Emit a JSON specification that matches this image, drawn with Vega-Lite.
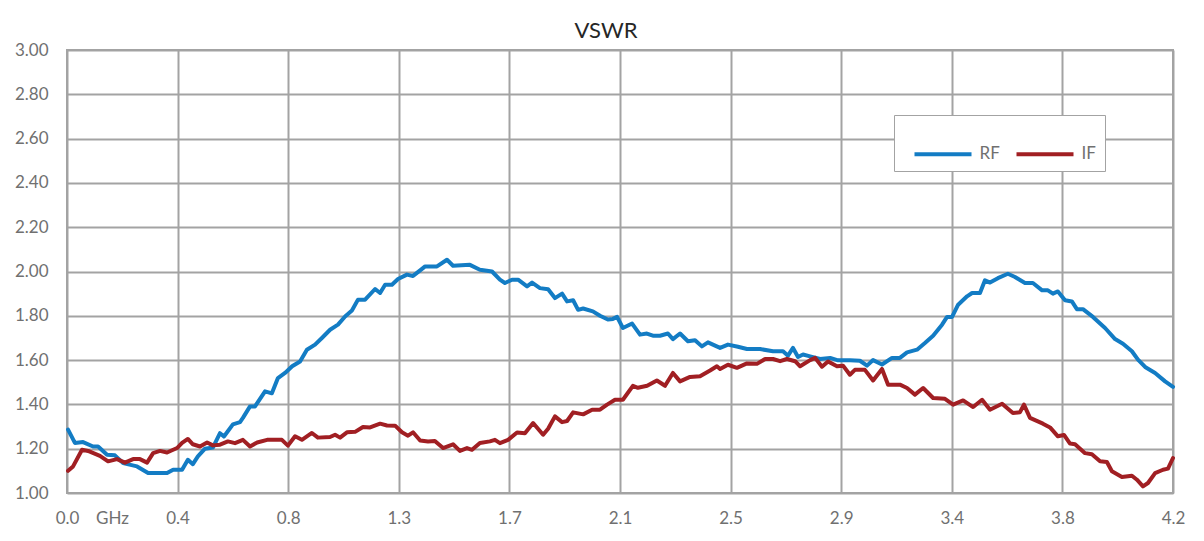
{
  "$schema": "https://vega.github.io/schema/vega-lite/v6.json",
  "width": 1106,
  "height": 443,
  "autosize": {"type": "none"},
  "padding": {"left": 67, "top": 50, "right": 31, "bottom": 48},
  "background": "white",
  "title": {"text": "VSWR", "fontSize": 22, "font": "Lato", "fontWeight": "normal", "color": "#262626", "anchor": "middle", "dx": -14, "offset": -2},
  "config": {
    "font": "Lato",
    "view": {"stroke": "#a3a3a3", "strokeWidth": 2},
    "axis": {"gridColor": "#a3a3a3", "gridWidth": 2, "gridOpacity": 1, "domain": false, "ticks": false, "labelColor": "#707070", "labelFont": "Lato", "labelFontSize": 17, "title": null}
  },
  "data": {"values": [
    {"f":0.004,"s":"RF","v":1.286},{"f":0.030,"s":"RF","v":1.226},{"f":0.061,"s":"RF","v":1.23},{"f":0.099,"s":"RF","v":1.21},{"f":0.118,"s":"RF","v":1.21},{"f":0.152,"s":"RF","v":1.173},{"f":0.182,"s":"RF","v":1.17},{"f":0.213,"s":"RF","v":1.135},{"f":0.266,"s":"RF","v":1.12},{"f":0.308,"s":"RF","v":1.09},{"f":0.353,"s":"RF","v":1.09},{"f":0.380,"s":"RF","v":1.09},{"f":0.403,"s":"RF","v":1.105},{"f":0.437,"s":"RF","v":1.105},{"f":0.459,"s":"RF","v":1.15},{"f":0.478,"s":"RF","v":1.13},{"f":0.497,"s":"RF","v":1.165},{"f":0.524,"s":"RF","v":1.2},{"f":0.554,"s":"RF","v":1.205},{"f":0.581,"s":"RF","v":1.27},{"f":0.596,"s":"RF","v":1.255},{"f":0.630,"s":"RF","v":1.31},{"f":0.657,"s":"RF","v":1.32},{"f":0.668,"s":"RF","v":1.339},{"f":0.695,"s":"RF","v":1.391},{"f":0.714,"s":"RF","v":1.391},{"f":0.752,"s":"RF","v":1.459},{"f":0.778,"s":"RF","v":1.45},{"f":0.801,"s":"RF","v":1.519},{"f":0.828,"s":"RF","v":1.542},{"f":0.855,"s":"RF","v":1.572},{"f":0.885,"s":"RF","v":1.594},{"f":0.911,"s":"RF","v":1.647},{"f":0.942,"s":"RF","v":1.67},{"f":0.968,"s":"RF","v":1.7},{"f":0.999,"s":"RF","v":1.737},{"f":1.029,"s":"RF","v":1.76},{"f":1.056,"s":"RF","v":1.797},{"f":1.082,"s":"RF","v":1.824},{"f":1.105,"s":"RF","v":1.873},{"f":1.132,"s":"RF","v":1.873},{"f":1.170,"s":"RF","v":1.921},{"f":1.189,"s":"RF","v":1.903},{"f":1.208,"s":"RF","v":1.94},{"f":1.234,"s":"RF","v":1.94},{"f":1.257,"s":"RF","v":1.966},{"f":1.291,"s":"RF","v":1.986},{"f":1.314,"s":"RF","v":1.98},{"f":1.341,"s":"RF","v":2.005},{"f":1.360,"s":"RF","v":2.023},{"f":1.405,"s":"RF","v":2.023},{"f":1.443,"s":"RF","v":2.053},{"f":1.466,"s":"RF","v":2.026},{"f":1.530,"s":"RF","v":2.03},{"f":1.568,"s":"RF","v":2.008},{"f":1.614,"s":"RF","v":2.0},{"f":1.644,"s":"RF","v":1.963},{"f":1.663,"s":"RF","v":1.948},{"f":1.690,"s":"RF","v":1.963},{"f":1.713,"s":"RF","v":1.963},{"f":1.747,"s":"RF","v":1.933},{"f":1.766,"s":"RF","v":1.95},{"f":1.796,"s":"RF","v":1.925},{"f":1.827,"s":"RF","v":1.92},{"f":1.853,"s":"RF","v":1.88},{"f":1.880,"s":"RF","v":1.9},{"f":1.899,"s":"RF","v":1.865},{"f":1.922,"s":"RF","v":1.87},{"f":1.941,"s":"RF","v":1.827},{"f":1.960,"s":"RF","v":1.833},{"f":1.997,"s":"RF","v":1.82},{"f":2.024,"s":"RF","v":1.8},{"f":2.054,"s":"RF","v":1.783},{"f":2.073,"s":"RF","v":1.786},{"f":2.089,"s":"RF","v":1.795},{"f":2.111,"s":"RF","v":1.745},{"f":2.146,"s":"RF","v":1.765},{"f":2.176,"s":"RF","v":1.715},{"f":2.202,"s":"RF","v":1.72},{"f":2.225,"s":"RF","v":1.71},{"f":2.252,"s":"RF","v":1.71},{"f":2.282,"s":"RF","v":1.72},{"f":2.301,"s":"RF","v":1.695},{"f":2.328,"s":"RF","v":1.72},{"f":2.358,"s":"RF","v":1.685},{"f":2.385,"s":"RF","v":1.69},{"f":2.411,"s":"RF","v":1.662},{"f":2.434,"s":"RF","v":1.68},{"f":2.480,"s":"RF","v":1.655},{"f":2.510,"s":"RF","v":1.67},{"f":2.548,"s":"RF","v":1.66},{"f":2.582,"s":"RF","v":1.65},{"f":2.632,"s":"RF","v":1.65},{"f":2.681,"s":"RF","v":1.64},{"f":2.719,"s":"RF","v":1.64},{"f":2.738,"s":"RF","v":1.62},{"f":2.757,"s":"RF","v":1.655},{"f":2.776,"s":"RF","v":1.614},{"f":2.795,"s":"RF","v":1.625},{"f":2.822,"s":"RF","v":1.617},{"f":2.860,"s":"RF","v":1.605},{"f":2.898,"s":"RF","v":1.61},{"f":2.928,"s":"RF","v":1.599},{"f":2.973,"s":"RF","v":1.599},{"f":3.011,"s":"RF","v":1.597},{"f":3.038,"s":"RF","v":1.575},{"f":3.061,"s":"RF","v":1.6},{"f":3.095,"s":"RF","v":1.58},{"f":3.133,"s":"RF","v":1.61},{"f":3.163,"s":"RF","v":1.61},{"f":3.190,"s":"RF","v":1.635},{"f":3.228,"s":"RF","v":1.647},{"f":3.258,"s":"RF","v":1.677},{"f":3.289,"s":"RF","v":1.71},{"f":3.323,"s":"RF","v":1.76},{"f":3.342,"s":"RF","v":1.795},{"f":3.361,"s":"RF","v":1.795},{"f":3.384,"s":"RF","v":1.85},{"f":3.418,"s":"RF","v":1.888},{"f":3.437,"s":"RF","v":1.903},{"f":3.467,"s":"RF","v":1.903},{"f":3.486,"s":"RF","v":1.96},{"f":3.505,"s":"RF","v":1.95},{"f":3.535,"s":"RF","v":1.97},{"f":3.573,"s":"RF","v":1.99},{"f":3.600,"s":"RF","v":1.975},{"f":3.638,"s":"RF","v":1.948},{"f":3.668,"s":"RF","v":1.948},{"f":3.703,"s":"RF","v":1.915},{"f":3.725,"s":"RF","v":1.915},{"f":3.744,"s":"RF","v":1.9},{"f":3.763,"s":"RF","v":1.91},{"f":3.790,"s":"RF","v":1.87},{"f":3.816,"s":"RF","v":1.865},{"f":3.835,"s":"RF","v":1.83},{"f":3.858,"s":"RF","v":1.83},{"f":3.896,"s":"RF","v":1.795},{"f":3.942,"s":"RF","v":1.745},{"f":3.980,"s":"RF","v":1.695},{"f":4.010,"s":"RF","v":1.674},{"f":4.044,"s":"RF","v":1.64},{"f":4.067,"s":"RF","v":1.602},{"f":4.094,"s":"RF","v":1.569},{"f":4.132,"s":"RF","v":1.542},{"f":4.170,"s":"RF","v":1.504},{"f":4.200,"s":"RF","v":1.479},
    {"f":0.004,"s":"IF","v":1.1},{"f":0.023,"s":"IF","v":1.12},{"f":0.057,"s":"IF","v":1.195},{"f":0.080,"s":"IF","v":1.19},{"f":0.125,"s":"IF","v":1.168},{"f":0.156,"s":"IF","v":1.143},{"f":0.190,"s":"IF","v":1.153},{"f":0.220,"s":"IF","v":1.137},{"f":0.251,"s":"IF","v":1.153},{"f":0.277,"s":"IF","v":1.153},{"f":0.304,"s":"IF","v":1.137},{"f":0.327,"s":"IF","v":1.18},{"f":0.353,"s":"IF","v":1.19},{"f":0.380,"s":"IF","v":1.183},{"f":0.418,"s":"IF","v":1.203},{"f":0.437,"s":"IF","v":1.226},{"f":0.459,"s":"IF","v":1.244},{"f":0.478,"s":"IF","v":1.22},{"f":0.505,"s":"IF","v":1.21},{"f":0.532,"s":"IF","v":1.228},{"f":0.554,"s":"IF","v":1.215},{"f":0.581,"s":"IF","v":1.218},{"f":0.611,"s":"IF","v":1.233},{"f":0.638,"s":"IF","v":1.225},{"f":0.668,"s":"IF","v":1.24},{"f":0.695,"s":"IF","v":1.21},{"f":0.722,"s":"IF","v":1.228},{"f":0.760,"s":"IF","v":1.24},{"f":0.816,"s":"IF","v":1.24},{"f":0.839,"s":"IF","v":1.214},{"f":0.866,"s":"IF","v":1.256},{"f":0.892,"s":"IF","v":1.24},{"f":0.930,"s":"IF","v":1.271},{"f":0.953,"s":"IF","v":1.25},{"f":0.999,"s":"IF","v":1.253},{"f":1.018,"s":"IF","v":1.263},{"f":1.037,"s":"IF","v":1.25},{"f":1.063,"s":"IF","v":1.274},{"f":1.094,"s":"IF","v":1.276},{"f":1.124,"s":"IF","v":1.298},{"f":1.151,"s":"IF","v":1.296},{"f":1.189,"s":"IF","v":1.313},{"f":1.215,"s":"IF","v":1.305},{"f":1.246,"s":"IF","v":1.304},{"f":1.272,"s":"IF","v":1.274},{"f":1.295,"s":"IF","v":1.259},{"f":1.314,"s":"IF","v":1.274},{"f":1.341,"s":"IF","v":1.237},{"f":1.371,"s":"IF","v":1.233},{"f":1.397,"s":"IF","v":1.235},{"f":1.428,"s":"IF","v":1.203},{"f":1.466,"s":"IF","v":1.22},{"f":1.492,"s":"IF","v":1.19},{"f":1.519,"s":"IF","v":1.203},{"f":1.538,"s":"IF","v":1.195},{"f":1.568,"s":"IF","v":1.226},{"f":1.606,"s":"IF","v":1.233},{"f":1.625,"s":"IF","v":1.24},{"f":1.644,"s":"IF","v":1.225},{"f":1.675,"s":"IF","v":1.24},{"f":1.709,"s":"IF","v":1.273},{"f":1.739,"s":"IF","v":1.27},{"f":1.770,"s":"IF","v":1.316},{"f":1.808,"s":"IF","v":1.263},{"f":1.827,"s":"IF","v":1.29},{"f":1.853,"s":"IF","v":1.346},{"f":1.880,"s":"IF","v":1.32},{"f":1.899,"s":"IF","v":1.325},{"f":1.922,"s":"IF","v":1.364},{"f":1.960,"s":"IF","v":1.355},{"f":1.994,"s":"IF","v":1.376},{"f":2.024,"s":"IF","v":1.376},{"f":2.051,"s":"IF","v":1.399},{"f":2.081,"s":"IF","v":1.421},{"f":2.111,"s":"IF","v":1.421},{"f":2.149,"s":"IF","v":1.484},{"f":2.168,"s":"IF","v":1.475},{"f":2.203,"s":"IF","v":1.484},{"f":2.240,"s":"IF","v":1.508},{"f":2.271,"s":"IF","v":1.484},{"f":2.301,"s":"IF","v":1.542},{"f":2.328,"s":"IF","v":1.504},{"f":2.366,"s":"IF","v":1.524},{"f":2.404,"s":"IF","v":1.527},{"f":2.442,"s":"IF","v":1.553},{"f":2.468,"s":"IF","v":1.572},{"f":2.480,"s":"IF","v":1.56},{"f":2.510,"s":"IF","v":1.579},{"f":2.544,"s":"IF","v":1.565},{"f":2.582,"s":"IF","v":1.585},{"f":2.620,"s":"IF","v":1.583},{"f":2.651,"s":"IF","v":1.605},{"f":2.681,"s":"IF","v":1.605},{"f":2.708,"s":"IF","v":1.595},{"f":2.734,"s":"IF","v":1.605},{"f":2.765,"s":"IF","v":1.595},{"f":2.784,"s":"IF","v":1.572},{"f":2.822,"s":"IF","v":1.6},{"f":2.841,"s":"IF","v":1.61},{"f":2.867,"s":"IF","v":1.57},{"f":2.890,"s":"IF","v":1.594},{"f":2.924,"s":"IF","v":1.572},{"f":2.947,"s":"IF","v":1.575},{"f":2.973,"s":"IF","v":1.534},{"f":2.992,"s":"IF","v":1.556},{"f":3.030,"s":"IF","v":1.556},{"f":3.061,"s":"IF","v":1.508},{"f":3.095,"s":"IF","v":1.56},{"f":3.118,"s":"IF","v":1.489},{"f":3.163,"s":"IF","v":1.489},{"f":3.190,"s":"IF","v":1.474},{"f":3.220,"s":"IF","v":1.444},{"f":3.251,"s":"IF","v":1.474},{"f":3.289,"s":"IF","v":1.429},{"f":3.334,"s":"IF","v":1.425},{"f":3.365,"s":"IF","v":1.399},{"f":3.403,"s":"IF","v":1.418},{"f":3.441,"s":"IF","v":1.388},{"f":3.475,"s":"IF","v":1.421},{"f":3.505,"s":"IF","v":1.376},{"f":3.551,"s":"IF","v":1.403},{"f":3.592,"s":"IF","v":1.361},{"f":3.619,"s":"IF","v":1.365},{"f":3.634,"s":"IF","v":1.399},{"f":3.657,"s":"IF","v":1.339},{"f":3.706,"s":"IF","v":1.313},{"f":3.733,"s":"IF","v":1.296},{"f":3.763,"s":"IF","v":1.256},{"f":3.786,"s":"IF","v":1.262},{"f":3.809,"s":"IF","v":1.223},{"f":3.828,"s":"IF","v":1.22},{"f":3.866,"s":"IF","v":1.18},{"f":3.892,"s":"IF","v":1.175},{"f":3.923,"s":"IF","v":1.143},{"f":3.949,"s":"IF","v":1.14},{"f":3.968,"s":"IF","v":1.098},{"f":4.006,"s":"IF","v":1.072},{"f":4.044,"s":"IF","v":1.078},{"f":4.063,"s":"IF","v":1.06},{"f":4.086,"s":"IF","v":1.03},{"f":4.105,"s":"IF","v":1.045},{"f":4.132,"s":"IF","v":1.09},{"f":4.162,"s":"IF","v":1.105},{"f":4.181,"s":"IF","v":1.11},{"f":4.200,"s":"IF","v":1.158}
  ]},
  "mark": {"type": "line", "strokeWidth": 4, "strokeJoin": "round", "strokeCap": "round"},
  "encoding": {
    "x": {
      "field": "f", "type": "quantitative",
      "scale": {"domain": [0, 4.2], "nice": false, "zero": false},
      "axis": {
        "values": [0, 0.171, 0.42, 0.84, 1.26, 1.68, 2.1, 2.52, 2.94, 3.36, 3.78, 4.2],
        "labelExpr": "datum.value > 0.1 && datum.value < 0.2 ? 'GHz' : format(datum.value, '.1f')",
        "gridOpacity": {"condition": {"test": "datum.value > 0.1 && datum.value < 0.2", "value": 0}, "value": 1},
        "labelPadding": 17,
        "labelFlush": false,
        "labelOverlap": false,
        "labelBound": false
      }
    },
    "y": {
      "field": "v", "type": "quantitative",
      "scale": {"domain": [1, 3], "nice": false, "zero": false},
      "axis": {"values": [1, 1.2, 1.4, 1.6, 1.8, 2, 2.2, 2.4, 2.6, 2.8, 3], "format": ".2f", "labelPadding": 19}
    },
    "color": {
      "field": "s", "type": "nominal",
      "scale": {"domain": ["RF", "IF"], "range": ["#137cc4", "#a11f23"]},
      "legend": {
        "title": null,
        "orient": "none",
        "legendX": 827,
        "legendY": 65,
        "direction": "horizontal",
        "symbolType": "stroke",
        "symbolSize": 3249,
        "symbolStrokeWidth": 4,
        "symbolOffset": 10,
        "labelFontSize": 17,
        "labelColor": "#707070",
        "labelOffset": 6,
        "columnPadding": 4,
        "padding": 8.5,
        "fillColor": "white",
        "strokeColor": "#a3a3a3"
      }
    }
  }
}
